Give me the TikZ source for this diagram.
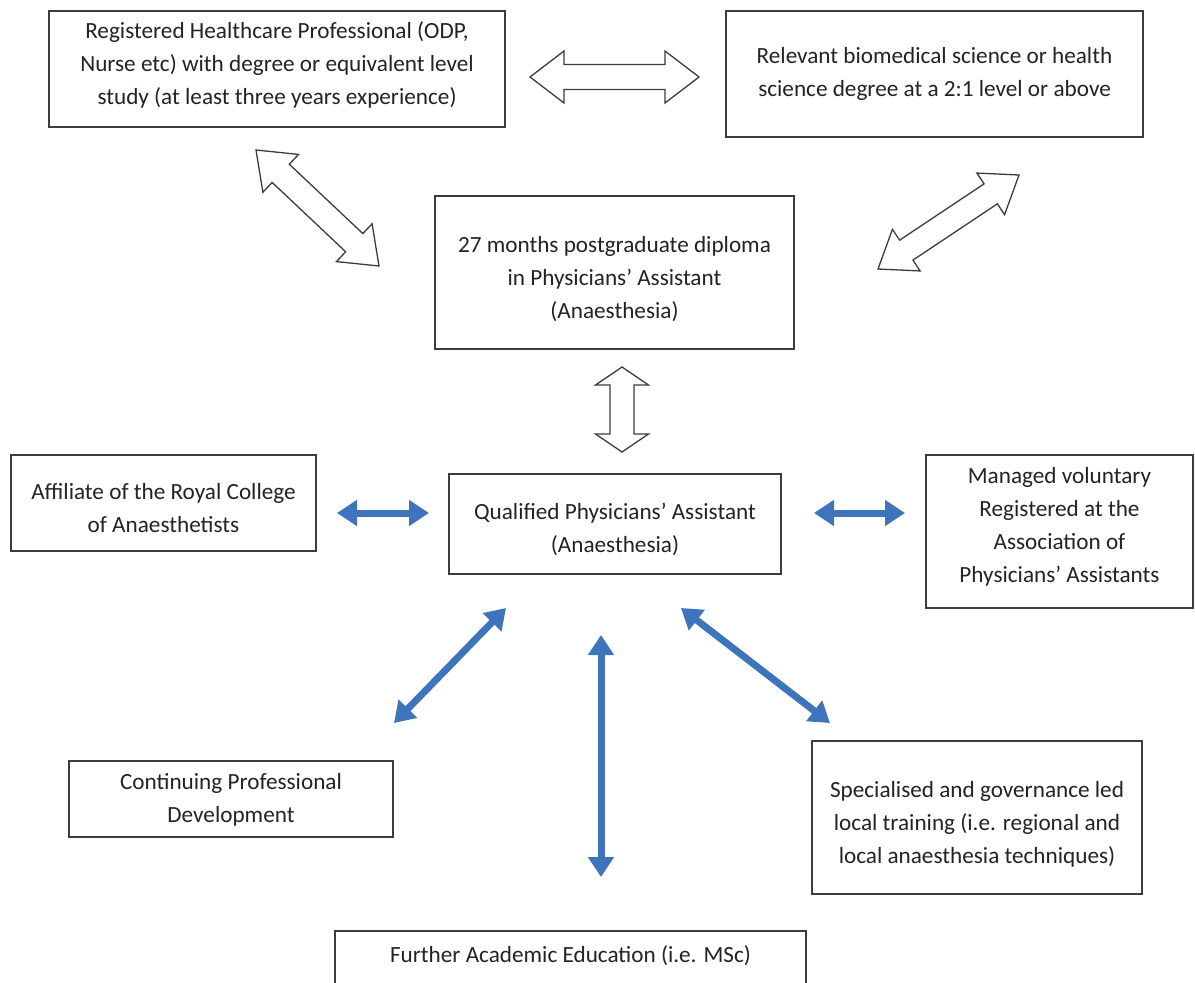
\documentclass[tikz,border=0pt]{standalone}
\usepackage{fontspec}
\setmainfont{Carlito}
\usetikzlibrary{calc,arrows.meta}
\definecolor{arrowblue}{RGB}{62,116,188}
\definecolor{boxline}{RGB}{60,60,60}
\definecolor{txt}{RGB}{35,35,35}
% double-headed hollow block arrow between two named coordinates
% #1,#2 end points; #3 head length; #4 head half width; #5 shaft half width
\newcommand{\hollowdbl}[5]{%
  \draw[hollow] (#1) -- ($(#1)!#3!(#2)!#4!90:(#2)$) -- ($(#1)!#3!(#2)!#5!90:(#2)$)
    -- ($(#2)!#3!(#1)!#5!-90:(#1)$) -- ($(#2)!#3!(#1)!#4!-90:(#1)$) -- (#2)
    -- ($(#2)!#3!(#1)!#4!90:(#1)$) -- ($(#2)!#3!(#1)!#5!90:(#1)$)
    -- ($(#1)!#3!(#2)!#5!-90:(#2)$) -- ($(#1)!#3!(#2)!#4!-90:(#2)$) -- cycle;}
\begin{document}
\begin{tikzpicture}[x=1pt,y=-1pt,
  box/.style={draw=boxline, line width=1.6pt, fill=white, align=center, inner sep=0pt,
    font=\fontsize{23.2pt}{33pt}\selectfont, text=txt, text depth=0pt},
  hollow/.style={draw=boxline, line width=1.3pt, fill=white, line join=miter},
  bluearr/.style={draw=arrowblue, line width=7pt,
    {Triangle[length=20pt,width=25pt]}-{Triangle[length=20pt,width=25pt]}}]
\path[use as bounding box] (0,0) rectangle (1195,983);
\clip (0,0) rectangle (1195,983);

% boxes
\node[box, minimum width=456pt, minimum height=116pt, text height=71pt] (A) at (277,69)
  {Registered Healthcare Professional (ODP,\\Nurse etc) with degree or equivalent level\\study (at least three years experience)};
\node[box, minimum width=417pt, minimum height=126pt, text height=45pt] (B) at (934.5,74)
  {Relevant biomedical science or health\\science degree at a 2:1 level or above};
\node[box, minimum width=359pt, minimum height=153pt, text height=92pt] (C) at (614.5,272.5)
  {27 months postgraduate diploma\\in Physicians’ Assistant\\(Anaesthesia)};
\node[box, minimum width=332pt, minimum height=100pt, text height=56pt] (D) at (615,524)
  {Qualified Physicians’ Assistant\\(Anaesthesia)};
\node[box, minimum width=305pt, minimum height=96pt, text height=58pt] (E) at (163.5,503)
  {Affiliate of the Royal College\\of Anaesthetists};
\node[box, minimum width=267pt, minimum height=153pt, text height=101pt] (F) at (1059.5,531.5)
  {Managed voluntary\\Registered at the\\Association of\\Physicians’ Assistants};
\node[box, minimum width=324pt, minimum height=76pt, text height=46pt] (G) at (231,799)
  {Continuing Professional\\Development};
\node[box, minimum width=330pt, minimum height=153pt, text height=92pt] (H) at (977,817.5)
  {Specialised and governance led\\local training (i.e. regional and\\local anaesthesia techniques)};
\node[box, minimum width=471pt, minimum height=68pt, text height=0pt, text depth=5pt] (I) at (570.5,965)
  {Further Academic Education (i.e. MSc)};

% hollow arrow end points
\coordinate (h1a) at (530,77);  \coordinate (h1b) at (699,77);
\coordinate (h2a) at (256,150); \coordinate (h2b) at (379,266);
\coordinate (h3a) at (1019,175);\coordinate (h3b) at (878,269);
\coordinate (h4a) at (622,367); \coordinate (h4b) at (622,452);
\hollowdbl{h1a}{h1b}{34pt}{26pt}{12.5pt}
\hollowdbl{h2a}{h2b}{34pt}{26pt}{12.5pt}
\hollowdbl{h3a}{h3b}{34pt}{25pt}{12pt}
\hollowdbl{h4a}{h4b}{18pt}{26.5pt}{12pt}

% blue arrow end points
\coordinate (b1a) at (337,513); \coordinate (b1b) at (429,513);
\coordinate (b2a) at (814,513); \coordinate (b2b) at (905,513);
\coordinate (b3a) at (506,608); \coordinate (b3b) at (394,723);
\coordinate (b4a) at (681,608); \coordinate (b4b) at (830,723);
\coordinate (b5a) at (601,635); \coordinate (b5b) at (601,877);
\draw[bluearr] (b1a) -- (b1b);
\draw[bluearr] (b2a) -- (b2b);
\draw[bluearr] (b3a) -- (b3b);
\draw[bluearr] (b4a) -- (b4b);
\draw[bluearr] (b5a) -- (b5b);
\end{tikzpicture}
\end{document}
